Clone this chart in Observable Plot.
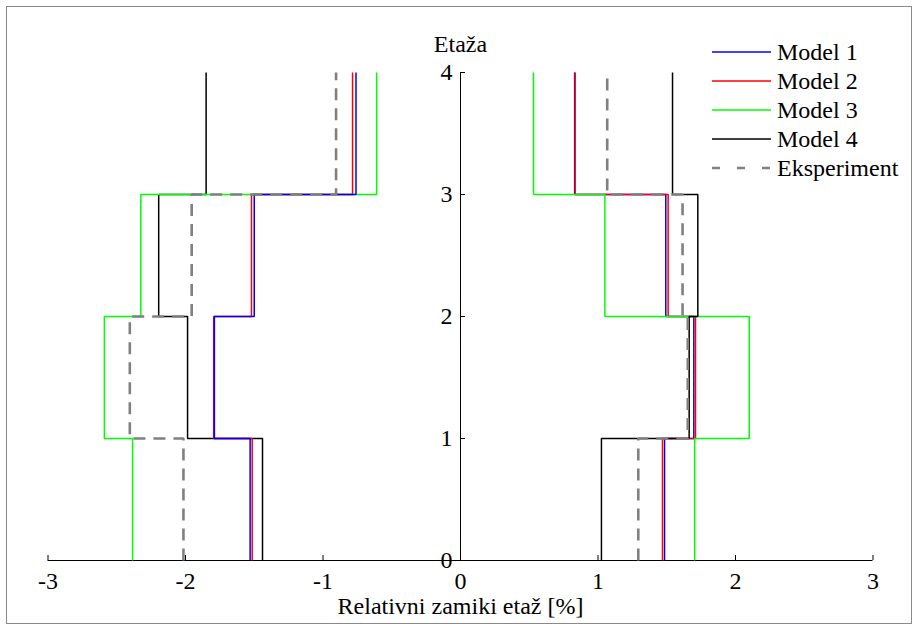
<!DOCTYPE html>
<html><head><meta charset="utf-8">
<script src="https://cdn.jsdelivr.net/npm/d3@7"></script>
<script src="https://cdn.jsdelivr.net/npm/@observablehq/plot@0.6"></script>
<style>
body{margin:0;background:#fff;}
#wrap{position:relative;width:918px;height:630px;font-family:'Liberation Serif','Times New Roman',Times,Tinos,'DejaVu Serif','Noto Serif',serif;overflow:hidden}
#border{position:absolute;left:6px;top:6px;width:904px;height:616px;border:1px solid #8a8a8a;pointer-events:none}
#legend{position:absolute;left:712px;top:37.5px;font-size:24px;color:#000}
.row{display:flex;align-items:center;height:29px;white-space:nowrap}
.row svg{width:59px;height:10px;margin-right:6px;flex:none}
#chart{position:absolute;left:0;top:0}
#chart svg text{font-family:'Liberation Serif','Times New Roman',Times,Tinos,'DejaVu Serif','Noto Serif',serif}
</style></head><body>
<div id="wrap"><div id="chart"></div><div id="border"></div><div id="legend"></div></div>
<script>
// ---- data ----
const series = ["Model 1", "Model 2", "Model 3", "Model 4", "Eksperiment"];
const floors = [0, 1, 2, 3, 4];           // y tick labels (Etaža)
const xTicks = [-3, -2, -1, 0, 1, 2, 3];  // x tick labels
// story drifts for stories 1..4 (negative direction)
const negModel1 = [-1.53, -1.79, -1.50, -0.76];
const negModel2 = [-1.515, -1.795, -1.52, -0.785];
const negModel3 = [-2.385, -2.59, -2.325, -0.61];
const negModel4 = [-1.44, -1.985, -2.195, -1.85];
const negExp    = [-2.015, -2.405, -1.955, -0.905];
// story drifts for stories 1..4 (positive direction)
const posModel1 = [1.484, 1.697, 1.493, 0.83];
const posModel2 = [1.469, 1.709, 1.51, 0.834];
const posModel3 = [1.703, 2.10, 1.05, 0.531];
const posModel4 = [1.025, 1.663, 1.726, 1.542];
const posExp    = [1.293, 1.653, 1.615, 1.067];

// ---- styles ----
const colors = ["#0000ff", "#ff0000", "#00ff00", "#000000", "#808080"];
const widths = [1.5, 1.5, 1.5, 1.5, 2.6];
const dashes = [null, null, null, null, "12,8"];
const FONT = "'Liberation Serif','Times New Roman',Times,Tinos,'DejaVu Serif','Noto Serif',serif";

const neg = [negModel1, negModel2, negModel3, negModel4, negExp];
const pos = [posModel1, posModel2, posModel3, posModel4, posExp];

function stepRows(vals) {
  const rows = [];
  vals.forEach((v, i) => {
    rows.push({x: v, y: floors[i]});
    rows.push({x: v, y: floors[i + 1]});
  });
  return rows;
}
function lineMark(vals, k) {
  return Plot.line(stepRows(vals), {
    x: "x", y: "y", stroke: colors[k], strokeWidth: widths[k],
    strokeDasharray: dashes[k], strokeLinejoin: "miter", strokeLinecap: "butt"
  });
}
const leftOrder = [3, 2, 1, 0, 4];
const rightOrder = [0, 1, 2, 3, 4];

const chart = Plot.plot({
  width: 918, height: 630,
  marginLeft: 47.5, marginRight: 45.5, marginTop: 72, marginBottom: 70,
  style: {fontFamily: FONT, fontSize: "24px", color: "#000", background: "transparent"},
  x: {domain: [-3, 3], label: null},
  y: {domain: [0, 4], axis: null, label: null},
  marks: [
    Plot.ruleY([0], {stroke: "#000", strokeWidth: 1}),
    Plot.ruleX([0], {stroke: "#000", strokeWidth: 1}),
    Plot.ruleX(xTicks, {x: d => d, y1: 0, y2: 0, insetTop: -5, stroke: "#000"}),
    Plot.ruleY(floors, {y: d => d, x1: 0, x2: 0, insetRight: -5, stroke: "#000"}),
    Plot.axisX({ticks: xTicks, tickSize: 0, tickPadding: 11, tickFormat: d => String(d), label: null, fill: "#000", fontFamily: FONT}),
    Plot.text(floors, {x: 0, y: d => d, text: d => String(d), dx: -8, textAnchor: "end", lineAnchor: "middle", fill: "#000", fontFamily: FONT}),
    Plot.text(["Etaža"], {x: 0, frameAnchor: "top", dy: -28, lineAnchor: "middle", fill: "#000", fontFamily: FONT}),
    Plot.text(["Relativni zamiki etaž [%]"], {x: 0, frameAnchor: "bottom", dy: 46, lineAnchor: "middle", fill: "#000", fontFamily: FONT}),
    ...leftOrder.map(k => lineMark(neg[k], k)),
    ...rightOrder.map(k => lineMark(pos[k], k))
  ]
});
document.getElementById("chart").appendChild(chart);

// legend
const leg = document.getElementById("legend");
series.forEach((s, k) => {
  const row = document.createElement("div");
  row.className = "row";
  row.innerHTML = `<svg viewBox="0 0 59 10"><line x1="0" x2="59" y1="5" y2="5" stroke="${colors[k]}" stroke-width="${widths[k]}" ${dashes[k] ? `stroke-dasharray="8,17"` : ""}/></svg><span>${s}</span>`;
  leg.appendChild(row);
});
</script>
</body></html>
